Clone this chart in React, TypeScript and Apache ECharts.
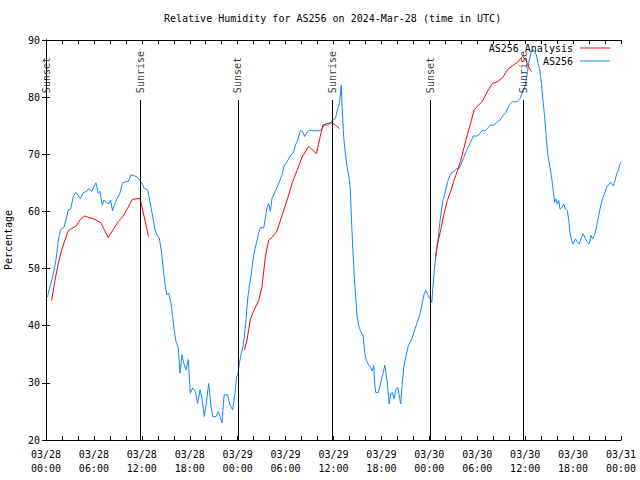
import React, { useEffect, useRef } from "react";
import * as echarts from "echarts";

const titleText = "Relative Humidity for AS256 on 2024-Mar-28 (time in UTC)";
const yAxisName = "Percentage";

// hours since 2024-03-28 00:00 UTC
const xTickDates = ["03/28", "03/28", "03/28", "03/28", "03/29", "03/29", "03/29", "03/29", "03/30", "03/30", "03/30", "03/30", "03/31"];
const xTickTimes = ["00:00", "06:00", "12:00", "18:00", "00:00", "06:00", "12:00", "18:00", "00:00", "06:00", "12:00", "18:00", "00:00"];

const sunEventHours = [0.06, 11.8, 24.04, 35.84, 48.1, 59.78];
const sunEventLabels = ["Sunset", "Sunrise", "Sunset", "Sunrise", "Sunset", "Sunrise"];

const blueHours = [
  0.17, 0.5, 0.92, 1.25, 1.54, 1.75, 1.96, 2.25, 2.5, 2.79, 3.08, 3.42, 3.71, 4.0, 4.29, 4.67, 5.08, 5.33, 5.71, 6.0,
  6.25, 6.54, 6.75, 7.04, 7.29, 7.58, 7.83, 8.08, 8.33, 8.63, 8.92, 9.25, 9.58, 9.92, 10.29, 10.63, 11.13, 11.42, 11.75, 12.04,
  12.31, 12.73, 13.02, 13.36, 13.65, 13.9, 14.19, 14.48, 14.74, 14.94, 15.15, 15.36, 15.65, 15.86, 16.07, 16.28, 16.57, 16.78, 17.03, 17.24,
  17.53, 17.82, 18.07, 18.36, 18.7, 18.99, 19.28, 19.49, 19.83, 20.12, 20.37, 20.62, 20.87, 21.29, 21.58, 21.79, 22.04, 22.3, 22.75, 23.04,
  23.37, 23.67, 23.87, 24.04, 24.21, 24.46, 24.67, 24.88, 25.05, 25.17, 25.3, 25.46, 25.71, 25.92, 26.13, 26.34, 26.63, 26.84, 27.26, 27.47,
  27.68, 27.89, 28.1, 28.3, 28.72, 29.14, 29.56, 29.85, 30.19, 30.61, 31.02, 31.23, 31.53, 31.86, 32.15, 32.4, 32.7, 32.99, 33.53, 34.24,
  34.58, 34.79, 35.33, 35.83, 36.25, 36.48, 36.77, 36.98, 37.06, 37.27, 37.48, 37.69, 37.9, 38.11, 38.23, 38.44, 38.57, 38.74, 38.95, 39.16,
  39.37, 39.7, 39.91, 40.12, 40.33, 40.63, 40.84, 41.05, 41.18, 41.3, 41.6, 41.93, 42.22, 42.43, 42.73, 42.98, 43.15, 43.36, 43.57, 43.82,
  44.03, 44.24, 44.41, 44.62, 44.83, 45.08, 45.37, 45.79, 46.12, 46.42, 46.83, 47.04, 47.34, 47.55, 47.89, 48.1, 48.31, 48.43, 48.6, 48.8,
  48.95, 49.09, 49.3, 49.51, 49.72, 49.93, 50.13, 50.34, 50.59, 50.89, 51.18, 51.43, 51.72, 51.93, 52.27, 52.56, 52.85, 53.19, 53.52, 54.02,
  54.36, 54.65, 54.94, 55.28, 55.61, 56.11, 56.53, 56.87, 57.16, 57.58, 58.0, 58.42, 58.96, 59.38, 59.67, 59.88, 60.09, 60.3, 60.5, 60.77,
  60.98, 61.19, 61.4, 61.61, 61.82, 62.03, 62.24, 62.45, 62.66, 62.86, 63.07, 63.28, 63.49, 63.7, 63.82, 64.03, 64.2, 64.37, 64.62, 64.83,
  65.04, 65.29, 65.46, 65.59, 65.8, 66.01, 66.31, 66.56, 66.77, 66.98, 67.27, 67.56, 67.82, 68.03, 68.24, 68.45, 68.66, 68.87, 69.08, 69.37,
  69.66, 69.91, 70.2, 70.5, 70.75, 71.04, 71.25, 71.46, 71.67, 71.88, 72.0,
];
const blueValues = [
  45.0, 46.8, 49.1, 51.5, 55.0, 56.4, 57.0, 57.2, 58.5, 60.3, 60.4, 62.6, 63.3, 62.9, 62.2, 63.3, 63.5, 64.0, 63.5, 64.3,
  65.0, 63.2, 63.5, 61.1, 62.0, 61.5, 61.3, 62.0, 60.1, 61.4, 62.3, 63.2, 65.0, 65.2, 65.2, 66.4, 66.2, 66.0, 65.5, 64.9,
  64.0, 63.8, 61.7, 59.1, 56.8, 55.9, 55.3, 52.7, 49.2, 46.8, 45.4, 45.7, 43.9, 41.6, 39.0, 37.2, 36.1, 31.7, 34.9, 33.5,
  32.3, 34.1, 28.2, 29.1, 28.5, 26.4, 28.8, 27.6, 24.1, 27.0, 29.9, 26.4, 24.1, 24.1, 25.0, 24.1, 23.0, 27.9, 27.9, 26.1,
  25.3, 28.2, 31.1, 31.4, 33.4, 35.2, 36.4, 38.7, 41.1, 43.4, 45.2, 46.9, 49.2, 51.5, 53.3, 54.4, 56.2, 57.2, 57.1, 58.8,
  60.8, 61.4, 60.0, 62.3, 63.5, 64.9, 66.4, 68.1, 68.7, 69.8, 70.4, 71.6, 72.5, 74.2, 73.9, 73.1, 73.9, 74.2, 74.1, 74.1,
  74.5, 75.1, 75.1, 75.9, 76.3, 77.7, 79.2, 82.1, 78.9, 73.1, 70.2, 67.9, 66.4, 63.9, 59.2, 52.8, 49.3, 45.8, 41.7, 40.0,
  39.1, 38.2, 35.3, 33.9, 33.3, 32.7, 32.1, 33.0, 29.5, 28.3, 28.3, 30.1, 31.8, 33.1, 30.1, 26.3, 28.1, 28.3, 27.2, 28.9,
  29.2, 27.7, 26.3, 30.1, 33.0, 34.7, 36.5, 37.6, 39.1, 40.3, 42.0, 43.5, 45.5, 46.2, 45.2, 44.7, 44.1, 46.4, 49.5, 52.0,
  54.0, 55.0, 57.9, 60.2, 61.9, 63.1, 64.3, 65.4, 66.3, 66.9, 67.1, 67.5, 67.5, 68.1, 69.3, 70.3, 71.2, 72.2, 73.2, 73.2,
  73.7, 74.2, 74.1, 74.5, 75.1, 75.1, 75.7, 76.0, 76.7, 77.3, 78.6, 79.2, 79.2, 79.8, 80.9, 81.5, 82.7, 84.5, 86.5, 87.9,
  88.3, 87.9, 87.4, 85.9, 84.8, 82.5, 79.3, 76.4, 72.6, 69.7, 68.0, 66.3, 63.9, 61.6, 62.2, 61.3, 61.9, 60.4, 60.7, 61.3,
  60.4, 60.1, 58.4, 56.6, 54.9, 54.3, 55.2, 54.6, 54.3, 55.2, 56.1, 55.2, 54.6, 54.3, 55.8, 55.2, 55.8, 56.9, 58.4, 60.4,
  62.2, 63.0, 64.2, 64.8, 65.1, 64.5, 65.4, 66.6, 67.2, 68.3, 68.6,
];

// null values mark gaps between analysis runs
const redHours = [
  0.7, 1.125, 1.54, 1.96, 2.375, 2.79, 3.2, 3.75, 4.25, 4.8, 5.5, 6.125, 6.875, 7.8, 8.4, 9.04, 9.67, 10.2, 10.8, 11.33,
  11.75, 12.29, 12.83, 18.0,
  24.83, 25.17, 25.59, 26.01, 26.63, 27.05, 27.47, 27.89, 28.39, 28.93, 29.56, 30.19, 30.81, 31.44, 32.06, 32.9, 33.86, 34.24, 34.66, 35.2,
  35.83, 36.25, 36.75, 42.0,
  48.79, 49.01, 49.42, 49.84, 50.26, 50.68, 51.1, 51.51, 51.93, 52.35, 52.77, 53.19, 53.61, 54.03, 54.65, 55.28, 55.91, 56.53, 57.16, 57.79,
  58.42, 59.04, 59.67, 60.09, 60.51, 60.8,
];
const redValues: (number | null)[] = [
  44.4, 48.0, 50.9, 53.2, 55.0, 56.6, 57.0, 57.4, 58.5, 59.2, 58.9, 58.6, 58.0, 55.4, 56.8, 58.2, 59.2, 60.5, 62.1, 62.2,
  62.3, 59.1, 55.6, null,
  35.75, 37.5, 41.1, 42.6, 44.4, 46.9, 52.1, 55.0, 55.6, 56.6, 59.3, 62.0, 64.9, 67.2, 69.5, 71.4, 70.1, 72.5, 75.1, 75.4,
  75.5, 75.1, 74.5, null,
  52.1, 54.1, 56.7, 59.6, 61.9, 63.6, 65.4, 67.1, 68.9, 71.2, 73.5, 75.5, 77.8, 78.4, 79.3, 81.0, 82.4, 82.7, 83.4, 84.8,
  85.5, 86.1, 87.1, 86.5, 85.1, 84.5,
];

const MONO = "DejaVu Sans Mono";
const RED = "#ff0000";
const BLUE = "#1088ff";

export default function App() {
  const ref = useRef<HTMLDivElement>(null);
  useEffect(() => {
    if (!ref.current) return;
    const chart = echarts.init(ref.current, undefined, { renderer: "svg" });
    const xLabel = (v: number) => {
      const i = Math.round(v / 6);
      return xTickDates[i] !== undefined ? `${xTickDates[i]}\n${xTickTimes[i]}` : "";
    };
    const baseX = {
      type: "value" as const,
      min: 0,
      max: 72,
      interval: 6,
      axisLine: { show: true, lineStyle: { color: "#000", width: 1 } },
      axisTick: { show: true, inside: true, length: 4, lineStyle: { color: "#000" } },
      minorTick: { show: true, splitNumber: 3, length: 4, lineStyle: { color: "#000" } },
      splitLine: { show: false },
      minorSplitLine: { show: false },
    };
    const baseY = {
      type: "value" as const,
      min: 20,
      max: 90,
      interval: 10,
      axisLine: { show: true, lineStyle: { color: "#000", width: 1 } },
      axisTick: { show: true, inside: true, length: 4, lineStyle: { color: "#000" } },
      splitLine: { show: false },
    };
    chart.setOption({
      animation: false,
      backgroundColor: "#fff",
      title: {
        text: titleText,
        left: 164,
        top: 13,
        padding: 0,
        textStyle: { fontFamily: MONO, fontSize: 10, fontWeight: "normal", color: "#000" },
      },
      grid: { left: 46, right: 19, top: 40, bottom: 40, containLabel: false, outerBoundsMode: "none" },
      legend: [
        {
          data: ["AS256 Analysis"],
          right: 30,
          top: 43,
          padding: 0,
          align: "right",
          icon: "rect",
          itemWidth: 30,
          itemHeight: 1,
          textStyle: { fontFamily: MONO, fontSize: 10, color: "#000", padding: [0, 2, 0, 0] },
        },
        {
          data: ["AS256"],
          right: 30,
          top: 56,
          padding: 0,
          align: "right",
          icon: "rect",
          itemWidth: 30,
          itemHeight: 1,
          textStyle: { fontFamily: MONO, fontSize: 10, color: "#000", padding: [0, 2, 0, 0] },
        },
      ],
      xAxis: [
        {
          ...baseX,
          position: "bottom",
          axisLabel: {
            show: true,
            formatter: xLabel,
            fontFamily: MONO,
            fontSize: 10,
            color: "#000",
            lineHeight: 14,
            margin: 7,
          },
        },
        { ...baseX, position: "top", axisLabel: { show: false } },
      ],
      yAxis: [
        {
          ...baseY,
          position: "left",
          name: yAxisName,
          nameLocation: "middle",
          nameGap: 33,
          nameTextStyle: { fontFamily: MONO, fontSize: 10, color: "#000" },
          axisLabel: { fontFamily: MONO, fontSize: 10, color: "#000", margin: 6 },
        },
        { ...baseY, position: "right", axisLabel: { show: false } },
      ],
      series: [
        {
          name: "AS256 Analysis",
          type: "line",
          data: redHours.map((h, i) => [h, redValues[i]]),
          showSymbol: false,
          symbol: "none",
          connectNulls: false,
          lineStyle: { color: RED, width: 1 },
          itemStyle: { color: RED },
          z: 3,
        },
        {
          name: "AS256",
          type: "line",
          data: blueHours.map((h, i) => [h, blueValues[i]]),
          showSymbol: false,
          symbol: "none",
          lineStyle: { color: BLUE, width: 1 },
          itemStyle: { color: BLUE },
          z: 2,
          markLine: {
            silent: true,
            symbol: ["none", "none"],
            label: { show: false },
            lineStyle: { color: "#000", width: 1, type: "solid" },
            data: sunEventHours.map((h) => [{ coord: [h, 20] }, { coord: [h, 79.5] }]),
          },
        },
        {
          name: "sun",
          type: "scatter",
          data: sunEventHours.map((h) => [h, 80.7]),
          symbolSize: 1,
          itemStyle: { color: "rgba(0,0,0,0)" },
          silent: true,
          z: 4,
          label: {
            show: true,
            position: "inside",
            rotate: 90,
            align: "left",
            verticalAlign: "middle",
            fontFamily: MONO,
            fontSize: 10,
            color: "#000",
            formatter: (p: any) => sunEventLabels[p.dataIndex],
          },
        },
      ],
    });
    return () => chart.dispose();
  }, []);
  return <div ref={ref} style={{ position: "absolute", left: 0, top: 0, width: 640, height: 480 }} />;
}
